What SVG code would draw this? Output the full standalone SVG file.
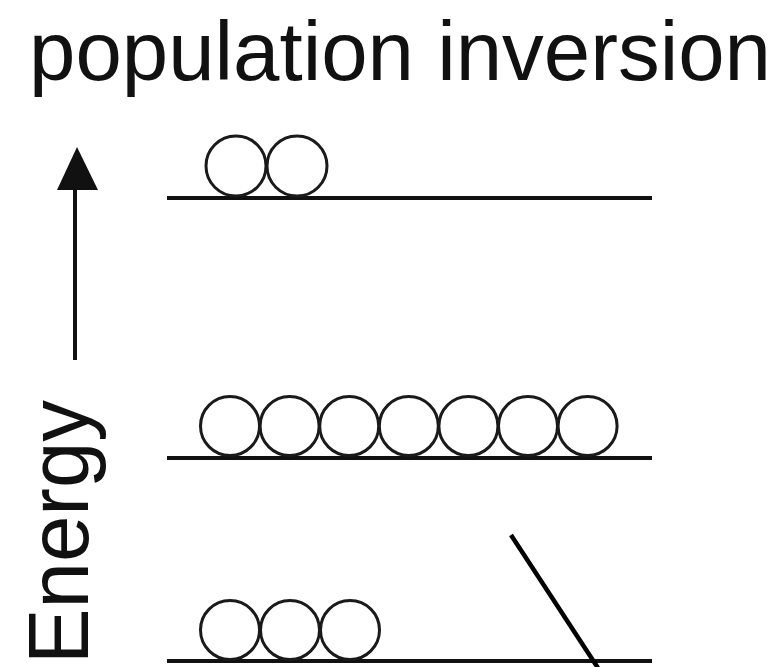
<svg xmlns="http://www.w3.org/2000/svg" width="780" height="667" viewBox="0 0 780 667">
<style>
.t{font-family:"Liberation Sans",Arial,sans-serif;fill:#111}
.lvl{stroke:#111;stroke-width:4;fill:none}
.p{stroke:#1a1a1a;stroke-width:3;fill:none}
</style>
<rect width="780" height="667" fill="#fff"/>
<g id="title"><text class="t" x="29" y="80" font-size="84" textLength="742" lengthAdjust="spacingAndGlyphs">population inversion</text></g>
<g id="energy-axis">
<line x1="75" y1="186" x2="75" y2="360" stroke="#111" stroke-width="4"/>
<polygon points="77,147 57,190 98,190" fill="#111"/>
<text class="t" transform="translate(88,664) rotate(-90)" font-size="86" textLength="264" lengthAdjust="spacingAndGlyphs">Energy</text>
</g>
<g id="level-top">
<line class="lvl" x1="167" y1="198" x2="652" y2="198"/>
<circle class="p" cx="236" cy="166" r="30"/>
<circle class="p" cx="297" cy="166" r="30"/>
</g>
<g id="level-middle">
<line class="lvl" x1="167" y1="458" x2="652" y2="458"/>
<circle class="p" cx="230" cy="426" r="29.5"/>
<circle class="p" cx="289.6" cy="426" r="29.5"/>
<circle class="p" cx="349.2" cy="426" r="29.5"/>
<circle class="p" cx="408.8" cy="426" r="29.5"/>
<circle class="p" cx="468.4" cy="426" r="29.5"/>
<circle class="p" cx="528" cy="426" r="29.5"/>
<circle class="p" cx="587.6" cy="426" r="29.5"/>
</g>
<g id="level-bottom">
<line class="lvl" x1="167" y1="661" x2="652" y2="661"/>
<circle class="p" cx="230" cy="630" r="29.5"/>
<circle class="p" cx="290" cy="630" r="29.5"/>
<circle class="p" cx="350" cy="630" r="29.5"/>
</g>
<g id="connectors">
<line x1="511" y1="535" x2="598" y2="668" stroke="#000" stroke-width="4.5"/>
</g>
</svg>
